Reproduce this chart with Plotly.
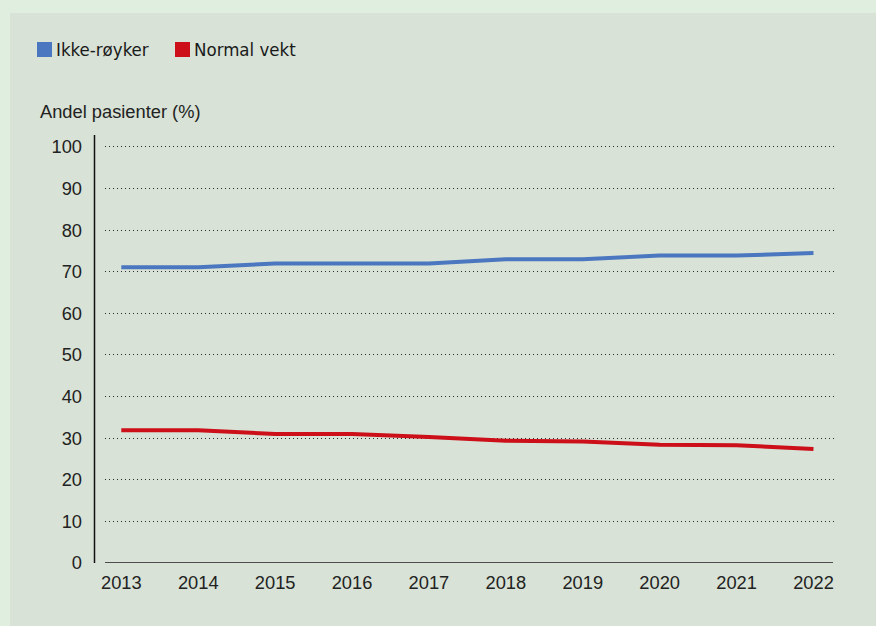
import plotly.graph_objects as go

years = [2013, 2014, 2015, 2016, 2017, 2018, 2019, 2020, 2021, 2022]
year_labels = [str(y) for y in years]
ikke_royker = [71.1, 71.1, 72.0, 72.0, 72.0, 73.0, 73.0, 73.9, 73.9, 74.5]
normal_vekt = [31.9, 31.9, 31.0, 31.0, 30.3, 29.4, 29.2, 28.4, 28.3, 27.4]
y_ticks = [0, 10, 20, 30, 40, 50, 60, 70, 80, 90, 100]
series_names = ["Ikke-røyker", "Normal vekt"]
series_colors = ["#4a77bf", "#cc0f18"]
y_title = "Andel pasienter (%)"

W, H = 876, 626
L, R, T, B = 105, 41, 135, 63
PW, PH = W - L - R, H - T - B

def px(x):
    return (x - L) / PW

def py(y):
    return (H - B - y) / PH

FONT = "Liberation Sans, Arial, sans-serif"
LEG_FONT = "DejaVu Sans Condensed, DejaVu Sans, sans-serif"

fig = go.Figure()
for name, vals, col in zip(series_names, [ikke_royker, normal_vekt], series_colors):
    fig.add_trace(go.Scatter(x=years, y=vals, mode="lines", name=name,
                             line=dict(color=col, width=4), showlegend=False,
                             hoverinfo="skip"))

shapes = [
    # inner panel
    dict(type="rect", xref="paper", yref="paper", x0=px(10), x1=px(W + 5),
         y0=py(H + 5), y1=py(13), fillcolor="#d8e2d6", line=dict(width=0), layer="below"),
    # y axis line
    dict(type="line", xref="paper", yref="paper", x0=px(94.5), x1=px(94.5),
         y0=py(563), y1=py(135), line=dict(color="#111111", width=1.5)),
    # baseline at zero
    dict(type="line", xref="paper", yref="y", x0=0, x1=px(833), y0=0, y1=0,
         line=dict(color="#4d4d4d", width=2.2)),
]
annotations = [
    dict(text=y_title, xref="paper", yref="paper", x=px(38), y=py(111),
         xanchor="left", yanchor="middle", showarrow=False,
         font=dict(family=FONT, size=18.3, color="#222222")),
]
leg_x = [37, 175]
for i, (name, col) in enumerate(zip(series_names, series_colors)):
    x0 = leg_x[i]
    shapes.append(dict(type="rect", xref="paper", yref="paper", x0=px(x0), x1=px(x0 + 15),
                       y0=py(57), y1=py(42), fillcolor=col, line=dict(width=0)))
    annotations.append(dict(text=name, xref="paper", yref="paper", x=px(x0 + 17), y=py(50),
                            xanchor="left", yanchor="middle", showarrow=False,
                            font=dict(family=LEG_FONT, size=18.5, color="#1a1a1a")))

fig.update_layout(
    width=W, height=H,
    margin=dict(l=L, r=R, t=T, b=B, pad=0),
    paper_bgcolor="#e0eee0",
    plot_bgcolor="rgba(0,0,0,0)",
    showlegend=False,
    shapes=shapes,
    annotations=annotations,
    xaxis=dict(
        range=[2012.788, 2022.28],
        tickvals=years, ticktext=year_labels,
        showgrid=False, zeroline=False, showline=False,
        ticks="", ticklabelstandoff=7,
        tickfont=dict(family=FONT, size=18.3, color="#222222"),
    ),
    yaxis=dict(
        range=[0, 102.88],
        tickvals=y_ticks,
        showgrid=True, gridcolor="#2a2a2a", gridwidth=1, griddash="1px,3px",
        zeroline=False, showline=False,
        ticks="", ticklabelstandoff=22,
        tickfont=dict(family=FONT, size=18.3, color="#222222"),
    ),
)

fig.write_html("out.html")
